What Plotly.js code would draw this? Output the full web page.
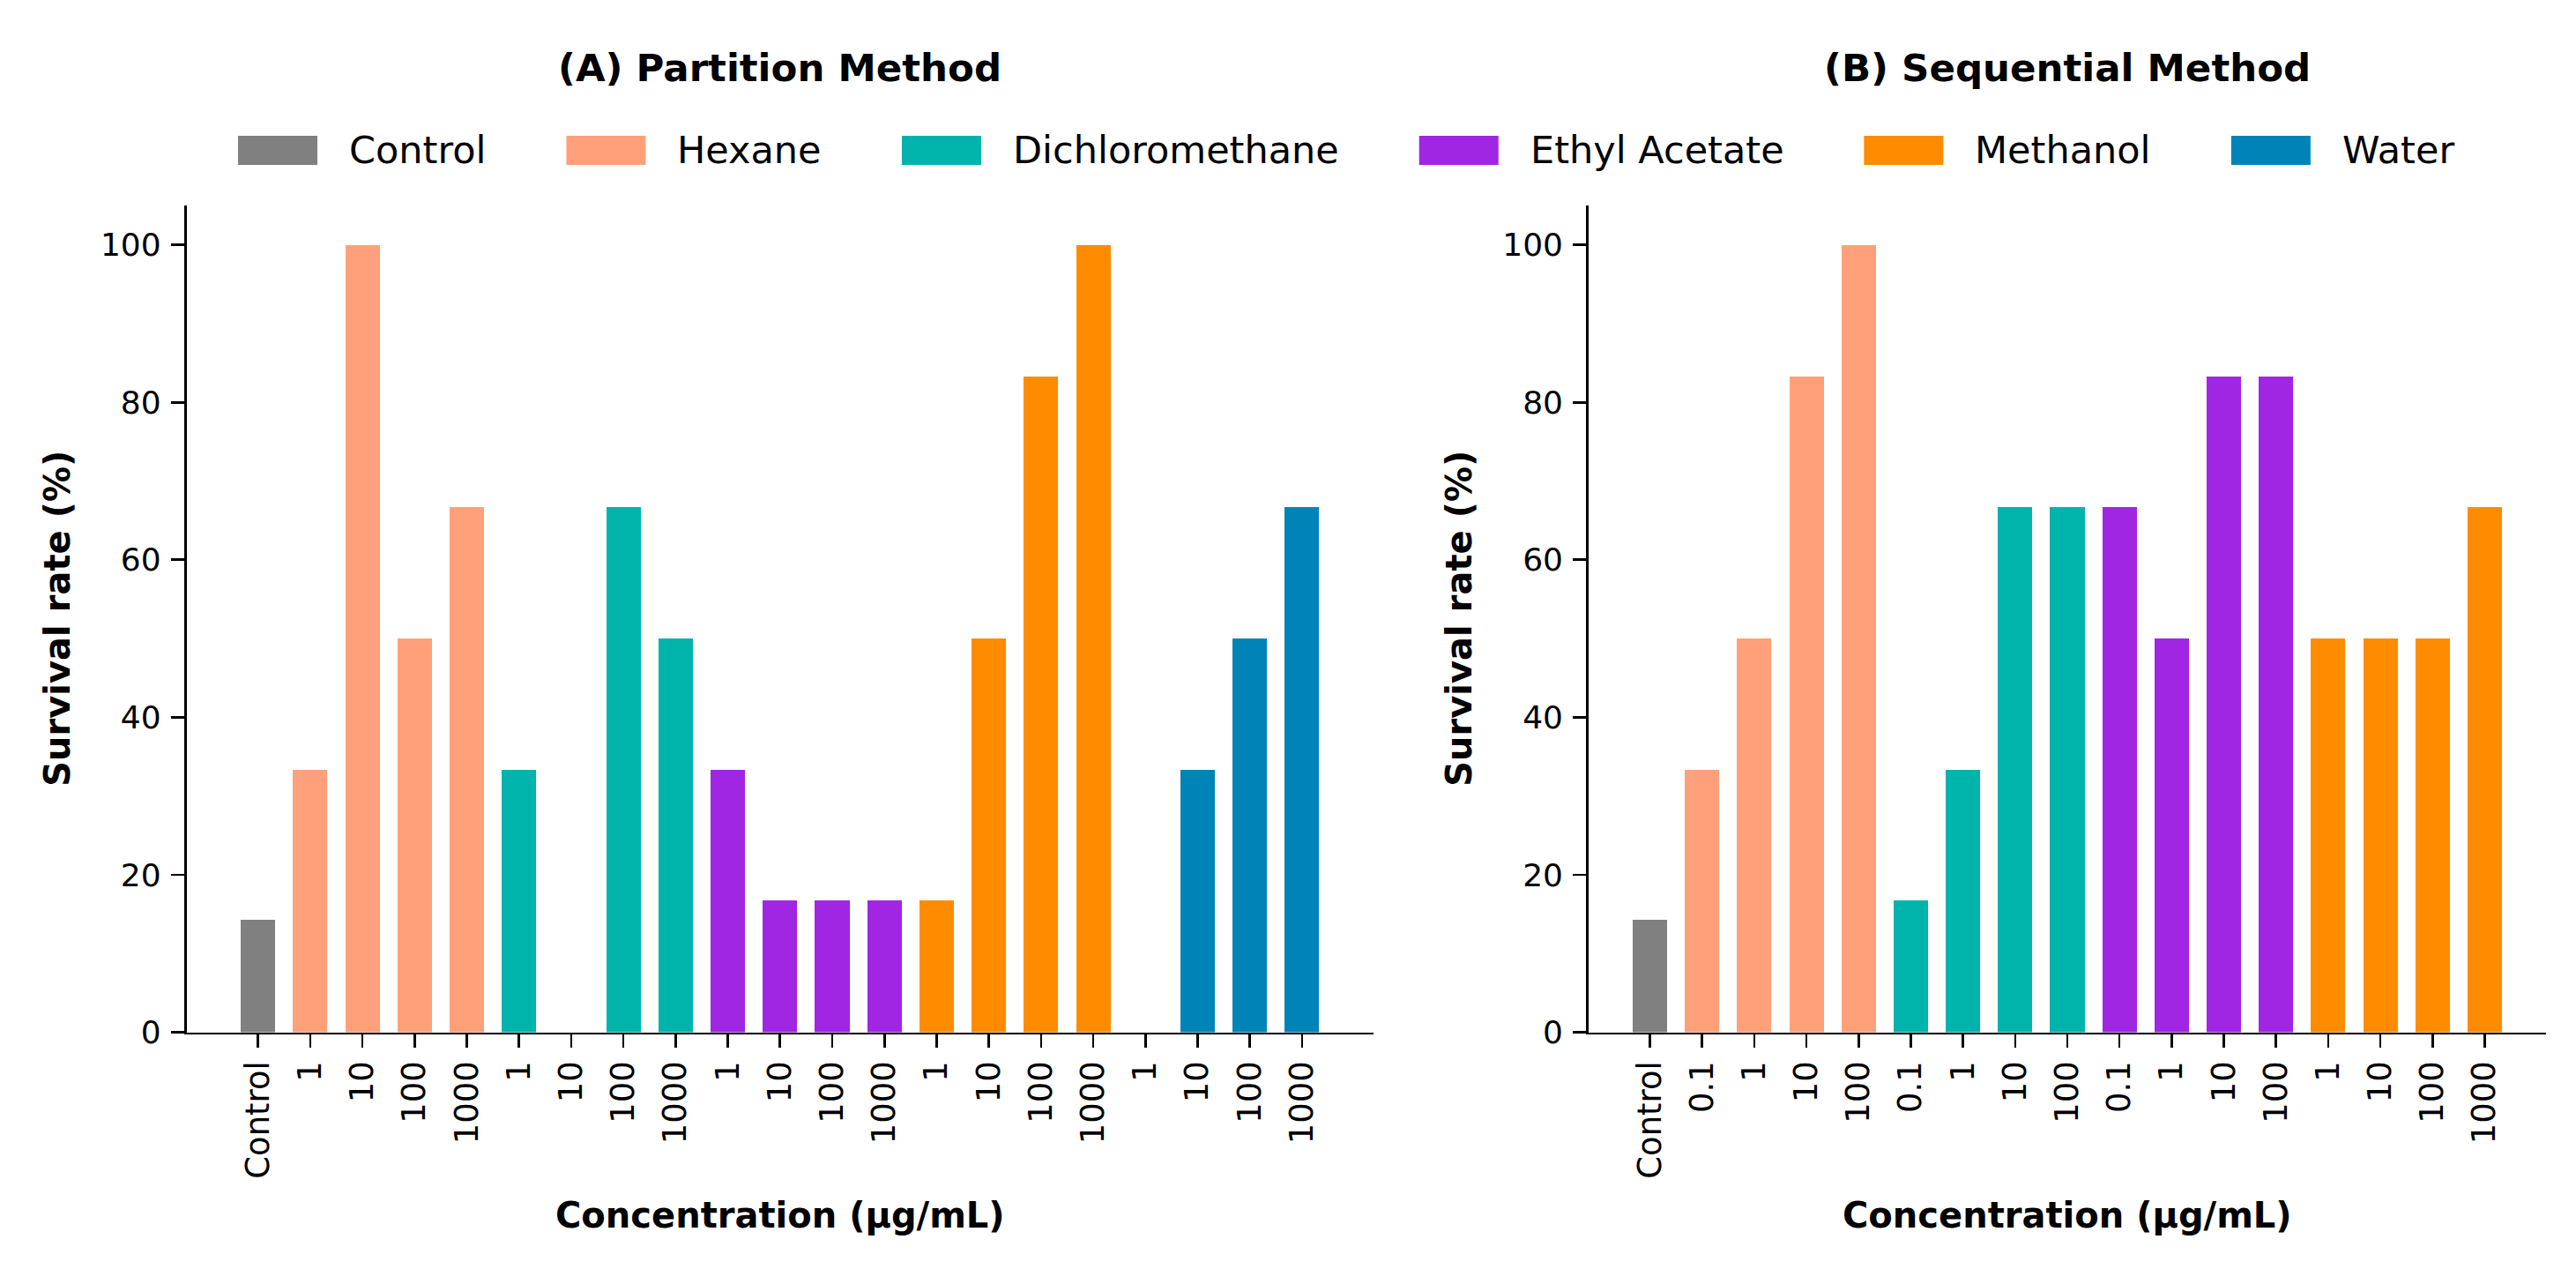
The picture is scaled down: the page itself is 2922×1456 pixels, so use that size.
<!DOCTYPE html>
<html>
<head>
<meta charset="utf-8">
<script src="https://cdn.plot.ly/plotly-3.0.1.min.js"></script>
<style>
  html, body { margin: 0; padding: 0; background: #ffffff; }
  #chart { width: 2922px; height: 1456px; }
</style>
</head>
<body>
<div id="chart"></div>
<script>
// groups and colours shared by both panels
const groupNames = ["Control", "Hexane", "Dichloromethane", "Ethyl Acetate", "Methanol", "Water"];
const groupColors = ["#808080", "#ffa07a", "#00b4ac", "#a026e3", "#ff8c00", "#0084b7"];

// (A) partition method, survival rate (%)
const partitionDoses = ["1", "10", "100", "1000"];
const partitionControl = [14.3];
const partitionHexane = [33.3, 100, 50, 66.7];
const partitionDichloromethane = [33.3, 0, 66.7, 50];
const partitionEthylAcetate = [33.3, 16.7, 16.7, 16.7];
const partitionMethanol = [16.7, 50, 83.3, 100];
const partitionWater = [0, 33.3, 50, 66.7];

// (B) sequential method, survival rate (%)
const sequentialLowDoses = ["0.1", "1", "10", "100"];
const sequentialMethanolDoses = ["1", "10", "100", "1000"];
const sequentialControl = [14.3];
const sequentialHexane = [33.3, 50, 83.3, 100];
const sequentialDichloromethane = [16.7, 33.3, 66.7, 66.7];
const sequentialEthylAcetate = [66.7, 50, 83.3, 83.3];
const sequentialMethanol = [50, 50, 50, 66.7];

const FIG_W = 2922;
const FIG_H = 1456;
const FONT = "DejaVu Sans";
const BAR_WIDTH = 0.66;

const px = (v) => v / FIG_W;
const py = (v) => 1 - v / FIG_H;

function buildPanel(groups, xa, ya) {
  const traces = [];
  const tickvals = [];
  const ticktext = [];
  let pos = 0;
  groups.forEach((g) => {
    const xs = g.values.map((_, i) => pos + i);
    xs.forEach((x, i) => { tickvals.push(x); ticktext.push(g.doses[i]); });
    pos += g.values.length;
    traces.push({
      type: "bar",
      name: g.name,
      x: xs,
      y: g.values,
      width: BAR_WIDTH,
      marker: { color: g.color, line: { width: 0 } },
      xaxis: xa,
      yaxis: ya,
      showlegend: false,
      hoverinfo: "skip",
    });
  });
  return { traces, tickvals, ticktext, count: pos };
}

const group = (idx, doses, values) => ({ name: groupNames[idx], color: groupColors[idx], doses, values });

const panelA = buildPanel([
  group(0, ["Control"], partitionControl),
  group(1, partitionDoses, partitionHexane),
  group(2, partitionDoses, partitionDichloromethane),
  group(3, partitionDoses, partitionEthylAcetate),
  group(4, partitionDoses, partitionMethanol),
  group(5, partitionDoses, partitionWater),
], "x", "y");

const panelB = buildPanel([
  group(0, ["Control"], sequentialControl),
  group(1, sequentialLowDoses, sequentialHexane),
  group(2, sequentialLowDoses, sequentialDichloromethane),
  group(3, sequentialLowDoses, sequentialEthylAcetate),
  group(4, sequentialMethanolDoses, sequentialMethanol),
], "x2", "y2");

const plotTop = 233;
const plotBottom = 1170.5;
const yDomain = [py(plotBottom), py(plotTop)];

function xAxis(domain, panel, pad, anchor) {
  return {
    domain,
    anchor,
    range: [-pad, panel.count - 1 + pad],
    tickvals: panel.tickvals,
    ticktext: panel.ticktext,
    tickangle: -90,
    ticks: "outside",
    ticklen: 15,
    tickwidth: 2.6,
    tickcolor: "#000",
    ticklabelstandoff: 0,
    showline: true,
    linewidth: 2.8,
    linecolor: "#000",
    showgrid: false,
    zeroline: false,
    fixedrange: true,
    tickfont: { family: FONT, size: 37, color: "#000" },
  };
}

function yAxis(anchor) {
  return {
    domain: yDomain,
    anchor,
    range: [0, 105],
    tick0: 0,
    dtick: 20,
    ticks: "outside",
    ticklen: 15,
    tickwidth: 2.6,
    tickcolor: "#000",
    ticklabelstandoff: 4,
    showline: true,
    linewidth: 2.8,
    linecolor: "#000",
    showgrid: false,
    zeroline: false,
    fixedrange: true,
    tickfont: { family: FONT, size: 36, color: "#000" },
  };
}

const annotations = [];
const shapes = [];

// panel titles and axis titles
[["x", "(A) Partition Method", px(65)], ["x2", "(B) Sequential Method", px(1655)]].forEach(([xa, title, yTitleX]) => {
  annotations.push({
    xref: xa + " domain", yref: "paper", x: 0.5, y: py(77),
    text: title, showarrow: false, xanchor: "center", yanchor: "middle",
    font: { family: FONT, size: 43.5, color: "#000", weight: "bold" },
  });
  annotations.push({
    xref: xa + " domain", yref: "paper", x: 0.5, y: py(1378),
    text: "Concentration (µg/mL)", showarrow: false, xanchor: "center", yanchor: "middle",
    font: { family: FONT, size: 40, color: "#000", weight: "bold" },
  });
  annotations.push({
    xref: "paper", yref: "paper", x: yTitleX, y: py((plotTop + plotBottom) / 2),
    text: "Survival rate (%)", showarrow: false, textangle: -90,
    xanchor: "center", yanchor: "middle",
    font: { family: FONT, size: 40, color: "#000", weight: "bold" },
  });
});

// legend row, drawn by hand so the swatches match the wide patches
const LEGEND_SIZE = 43;
const ctx = document.createElement("canvas").getContext("2d");
ctx.font = LEGEND_SIZE + "px 'DejaVu Sans'";
let lx = 270;
groupNames.forEach((name, i) => {
  shapes.push({
    type: "rect", xref: "paper", yref: "paper",
    x0: px(lx), x1: px(lx + 90), y0: py(187), y1: py(154),
    fillcolor: groupColors[i], line: { width: 0 },
  });
  const tx = lx + 90 + 34;
  annotations.push({
    xref: "paper", yref: "paper", x: px(tx), y: py(170),
    text: name, showarrow: false, xanchor: "left", yanchor: "middle",
    font: { family: FONT, size: LEGEND_SIZE, color: "#000" },
  });
  lx = tx + ctx.measureText(name).width + 93;
});

const layout = {
  width: FIG_W,
  height: FIG_H,
  margin: { l: 0, r: 0, t: 0, b: 0 },
  paper_bgcolor: "#ffffff",
  plot_bgcolor: "#ffffff",
  font: { family: FONT, color: "#000" },
  showlegend: false,
  bargap: 0,
  xaxis: xAxis([px(211.6), px(1558)], panelA, 1.37, "y"),
  yaxis: yAxis("x"),
  xaxis2: xAxis([px(1802), px(2888)], panelB, 1.175, "y2"),
  yaxis2: yAxis("x2"),
  annotations,
  shapes,
};

Plotly.newPlot("chart", panelA.traces.concat(panelB.traces), layout, {
  displayModeBar: false,
  staticPlot: true,
});
</script>
</body>
</html>
